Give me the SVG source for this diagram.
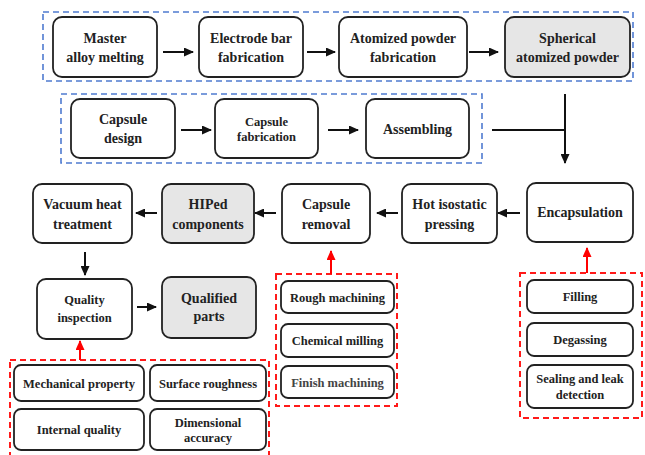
<svg xmlns="http://www.w3.org/2000/svg" width="645" height="455" viewBox="0 0 645 455">
<defs>
<marker id="ab" markerUnits="userSpaceOnUse" markerWidth="10" markerHeight="9" refX="9" refY="4.5" orient="auto"><path d="M0,0 L10,4.5 L0,9 z" fill="#111"/></marker>
<marker id="ar" markerUnits="userSpaceOnUse" markerWidth="10" markerHeight="9" refX="9" refY="4.5" orient="auto"><path d="M0,0 L10,4.5 L0,9 z" fill="#ff0000"/></marker>
</defs>
<style>
.n{fill:#fff;stroke:#222;stroke-width:1.8}
.g{fill:#e6e6e6;stroke:#222;stroke-width:1.8}
.t{font-family:"Liberation Serif","Times New Roman",serif;font-weight:bold;font-size:14px;fill:#222;text-anchor:middle}
.s{font-size:12.5px}
.bd{fill:none;stroke:#4f7bd0;stroke-width:1.6;stroke-dasharray:6 4}
.rd{fill:none;stroke:#ff1a1a;stroke-width:2;stroke-dasharray:6 4}
.c{stroke:#111;stroke-width:2;fill:none}
.cr{stroke:#ff0000;stroke-width:2;fill:none}
</style>
<rect class="bd" x="43" y="12" width="590" height="69"/>
<rect class="bd" x="61" y="94" width="421" height="69"/>
<rect class="rd" x="10" y="360" width="259" height="100"/>
<rect class="rd" x="276" y="274" width="121" height="132"/>
<rect class="rd" x="520" y="273" width="122" height="145"/>
<g id="n1"><rect class="n" x="53" y="17" width="104" height="60" rx="9"/><text class="t" x="105" y="43">Master</text><text class="t" x="105" y="62">alloy melting</text></g>
<g id="n2"><rect class="n" x="199" y="17" width="104" height="60" rx="9"/><text class="t" x="251" y="43">Electrode bar</text><text class="t" x="251" y="62">fabrication</text></g>
<g id="n3"><rect class="n" x="339" y="17" width="128" height="60" rx="9"/><text class="t" x="403" y="43">Atomized powder</text><text class="t" x="403" y="62">fabrication</text></g>
<g id="n4"><rect class="g" x="505" y="17" width="125" height="60" rx="9"/><text class="t" x="567.5" y="43">Spherical</text><text class="t" x="567.5" y="62">atomized powder</text></g>
<g id="n5"><rect class="n" x="71" y="99" width="104" height="59" rx="9"/><text class="t" x="123" y="124">Capsule</text><text class="t" x="123" y="143">design</text></g>
<g id="n6"><rect class="n" x="215" y="99" width="103" height="59" rx="9"/><text class="t s" x="266.5" y="126">Capsule</text><text class="t s" x="266.5" y="141">fabrication</text></g>
<g id="n7"><rect class="n" x="366" y="99" width="103" height="59" rx="9"/><text class="t" x="417.5" y="134">Assembling</text></g>
<g id="n8"><rect class="n" x="33" y="184" width="99" height="59" rx="9"/><text class="t" x="82.5" y="209">Vacuum heat</text><text class="t" x="82.5" y="229">treatment</text></g>
<g id="n9"><rect class="g" x="162" y="184" width="92" height="59" rx="9"/><text class="t" x="208" y="209">HIPed</text><text class="t" x="208" y="229">components</text></g>
<g id="n10"><rect class="n" x="282" y="184" width="88" height="59" rx="9"/><text class="t" x="326" y="209">Capsule</text><text class="t" x="326" y="229">removal</text></g>
<g id="n11"><rect class="n" x="402" y="184" width="95" height="59" rx="9"/><text class="t" x="449.5" y="209">Hot isostatic</text><text class="t" x="449.5" y="229">pressing</text></g>
<g id="n12"><rect class="n" x="527" y="183" width="106" height="59" rx="9"/><text class="t" x="580" y="217">Encapsulation</text></g>
<g id="n13"><rect class="n" x="37" y="279" width="95" height="60" rx="9"/><text class="t s" x="84.5" y="304">Quality</text><text class="t s" x="84.5" y="322">inspection</text></g>
<g id="n14"><rect class="g" x="162" y="277" width="94" height="61" rx="9"/><text class="t" x="209" y="303">Qualified</text><text class="t" x="209" y="321">parts</text></g>
<g id="n15"><rect class="n" x="14" y="365" width="130" height="36" rx="7"/><text class="t s" x="79" y="387.5">Mechanical property</text></g>
<g id="n16"><rect class="n" x="150" y="365" width="116" height="36" rx="7"/><text class="t s" x="208" y="387.5">Surface roughness</text></g>
<g id="n17"><rect class="n" x="14" y="409" width="130" height="41" rx="7"/><text class="t s" x="79" y="434">Internal quality</text></g>
<g id="n18"><rect class="n" x="150" y="409" width="116" height="41" rx="7"/><text class="t s" x="208" y="427">Dimensional</text><text class="t s" x="208" y="442">accuracy</text></g>
<g id="n19"><rect class="n" x="281" y="281" width="113" height="32" rx="7"/><text class="t s" x="337.5" y="301.5">Rough machining</text></g>
<g id="n20"><rect class="n" x="281" y="324" width="113" height="33" rx="7"/><text class="t s" x="337.5" y="345">Chemical milling</text></g>
<g id="n21"><rect class="n" x="281" y="366" width="113" height="32" rx="7"/><text class="t s" x="337.5" y="386.5" style="fill:#444">Finish machining</text></g>
<g id="n22"><rect class="n" x="527" y="280" width="106" height="33" rx="7"/><text class="t s" x="580" y="301">Filling</text></g>
<g id="n23"><rect class="n" x="527" y="323" width="106" height="33" rx="7"/><text class="t s" x="580" y="344">Degassing</text></g>
<g id="n24"><rect class="n" x="527" y="365" width="106" height="43" rx="7"/><text class="t s" x="580" y="383">Sealing and leak</text><text class="t s" x="580" y="399">detection</text></g>
<g id="connectors">
<line class="c" x1="163" y1="52" x2="193" y2="52" marker-end="url(#ab)"/>
<line class="c" x1="307" y1="52" x2="335" y2="52" marker-end="url(#ab)"/>
<line class="c" x1="469" y1="52" x2="498" y2="52" marker-end="url(#ab)"/>
<line class="c" x1="181" y1="130" x2="211" y2="130" marker-end="url(#ab)"/>
<line class="c" x1="328" y1="130" x2="358" y2="130" marker-end="url(#ab)"/>
<line class="c" x1="492" y1="130" x2="566" y2="130"/>
<line class="c" x1="565" y1="94" x2="565" y2="163" marker-end="url(#ab)"/>
<line class="c" x1="520" y1="213" x2="498" y2="213" marker-end="url(#ab)"/>
<line class="c" x1="398" y1="213" x2="377" y2="213" marker-end="url(#ab)"/>
<line class="c" x1="276" y1="213" x2="255" y2="213" marker-end="url(#ab)"/>
<line class="c" x1="157" y1="213" x2="136" y2="213" marker-end="url(#ab)"/>
<line class="c" x1="85" y1="252" x2="85" y2="275" marker-end="url(#ab)"/>
<line class="c" x1="137" y1="307" x2="156" y2="307" marker-end="url(#ab)"/>
<line class="cr" x1="80" y1="360" x2="80" y2="341" marker-end="url(#ar)"/>
<line class="cr" x1="331" y1="274" x2="331" y2="251" marker-end="url(#ar)"/>
<line class="cr" x1="587" y1="273" x2="587" y2="248" marker-end="url(#ar)"/>
</g>
</svg>
